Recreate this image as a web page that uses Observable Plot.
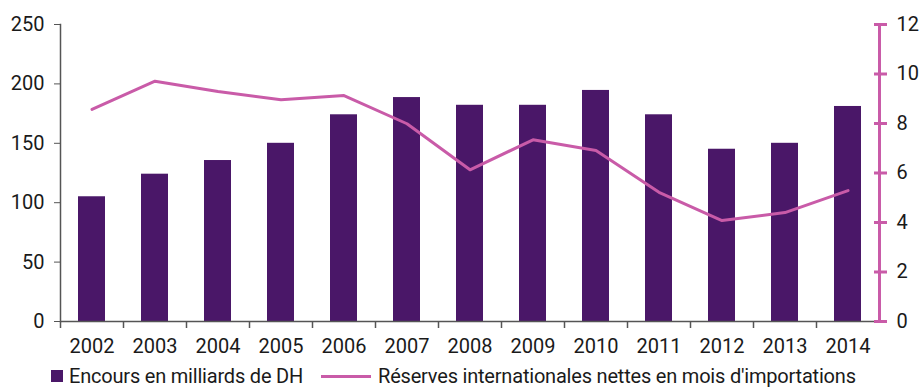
<!DOCTYPE html>
<html>
<head>
<meta charset="utf-8">
<script src="https://cdn.jsdelivr.net/npm/d3@7"></script>
<script src="https://cdn.jsdelivr.net/npm/@observablehq/plot@0.6"></script>
<style>
  body { margin: 0; background: #fff; }
  #chart { font-family: Roboto, "Open Sans", sans-serif; }
  .legend { display: flex; align-items: center; height: 28px; font-size: 20px; color: #1a1a1a; margin-top: 5px; white-space: nowrap; letter-spacing: -0.2px; }
  .legend .item { display: flex; align-items: center; }
  .sw-bar { width: 12px; height: 12px; background: #4a1768; margin-left: 51px; margin-right: 6px; }
  .sw-line { width: 50px; height: 3px; background: #c95ba8; margin-left: 18px; margin-right: 7px; }
</style>
</head>
<body>
<div id="chart"></div>
<script>
const years = ["2002","2003","2004","2005","2006","2007","2008","2009","2010","2011","2012","2013","2014"];
const encours = [105, 124, 135.5, 150, 174, 188.5, 182, 182, 194.5, 174, 145, 150, 181];
const reserves = [8.57, 9.71, 9.29, 8.96, 9.13, 7.99, 6.13, 7.34, 6.91, 5.22, 4.08, 4.4, 5.29];
const leftTicks = [0, 50, 100, 150, 200, 250];
const rightTicks = [0, 2, 4, 6, 8, 10, 12];
const leftMax = 250, rightMax = 12;
const k = leftMax / rightMax;

const W = 919, H = 357, mL = 60, mR = 40, mT = 24, mB = 36;
const step = (W - mL - mR) / years.length;

const barData = years.map((y, i) => ({year: y, v: encours[i]}));
const lineData = years.map((y, i) => ({year: y, v: reserves[i]}));

const plot = Plot.plot({
  width: W, height: H,
  marginLeft: mL, marginRight: mR, marginTop: mT, marginBottom: mB,
  style: {fontSize: "20px", fontFamily: "Roboto, 'Open Sans', sans-serif", color: "#1a1a1a", background: "#fff", overflow: "visible"},
  x: {domain: years, paddingInner: 0.57, paddingOuter: 0.285, label: null},
  y: {domain: [0, leftMax], label: null},
  marks: [
    Plot.barY(barData, {x: "year", y: "v", fill: "#4a1768"}),
    Plot.lineY(lineData, {x: "year", y: d => d.v * k, stroke: "#c95ba8", strokeWidth: 3}),
    Plot.ruleY([0], {stroke: "#555", strokeWidth: 1.5}),
    Plot.frame({anchor: "left", stroke: "#555", strokeWidth: 1.5}),
    Plot.ruleX(years, {x: d => d, dx: -step / 2, y1: 0, y2: 0, insetBottom: -7, stroke: "#555", strokeWidth: 1.5}),
    Plot.axisY({anchor: "left", ticks: leftTicks, tickSize: 6, tickPadding: 10, stroke: "#555", tickFormat: d => d, label: null}),
    Plot.axisX({anchor: "bottom", tickSize: 0, tickPadding: 17, label: null}),
    Plot.frame({anchor: "right", stroke: "#c95ba8", strokeWidth: 3}),
    Plot.axisY({anchor: "right", ticks: rightTicks.map(v => v * k), tickSize: 13, dx: -6, stroke: "#c95ba8", strokeWidth: 3, tickFormat: () => "", label: null}),
    Plot.axisY({anchor: "right", ticks: rightTicks.map(v => v * k), tickFormat: d => Math.round(d / k), tickSize: 0, tickPadding: 17, label: null})
  ]
});
document.getElementById("chart").appendChild(plot);

const legend = document.createElement("div");
legend.className = "legend";
legend.innerHTML = '<div class="item"><div class="sw-bar"></div><span>Encours en milliards de DH</span></div>' +
  '<div class="item"><div class="sw-line"></div><span>Réserves internationales nettes en mois d\'importations</span></div>';
document.getElementById("chart").appendChild(legend);
</script>
</body>
</html>
